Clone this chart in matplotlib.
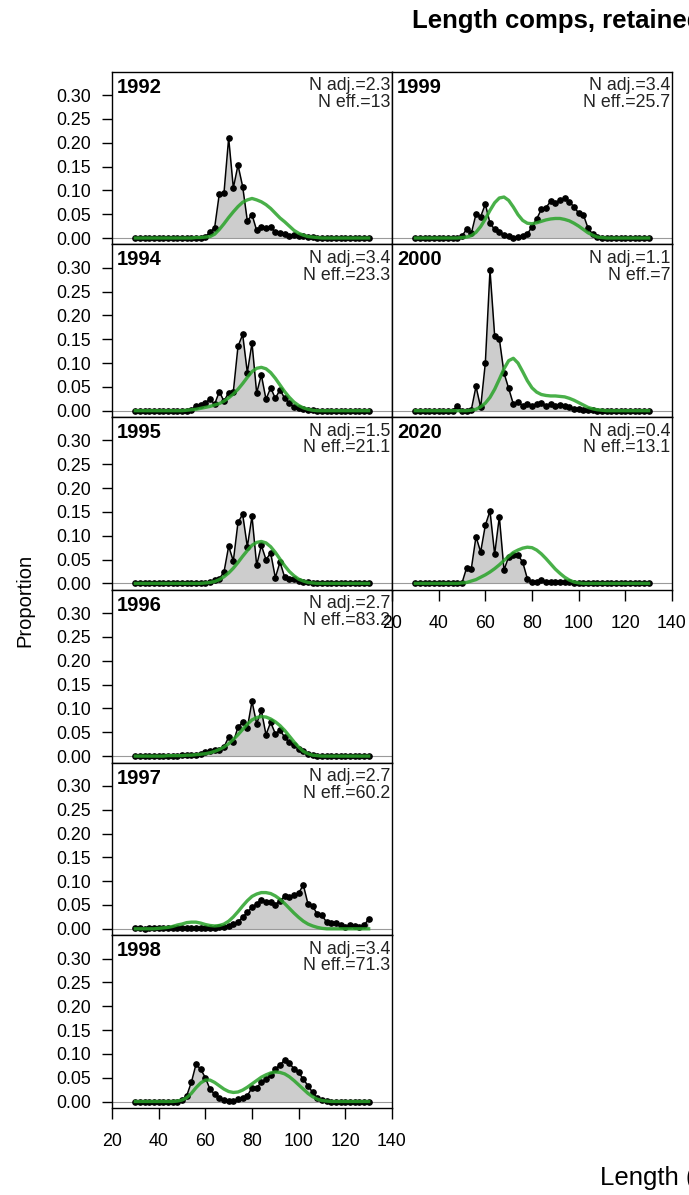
import matplotlib
matplotlib.use('Agg')
import matplotlib.pyplot as plt

plt.rcParams['font.family'] = ['Liberation Sans', 'DejaVu Sans']

# length bins (cm)
length_bins = list(range(30, 132, 2))

# observed / expected proportions, one value per length bin (30..130 by 2)
obs_1992 = [0, 0, 0, 0, 0, 0, 0, 0, 0, 0,
            0, 0, 0, 0, 0.001, 0.003, 0.012, 0.022, 0.093, 0.095,
            0.210, 0.105, 0.153, 0.108, 0.036, 0.049, 0.016, 0.024, 0.020, 0.023,
            0.012, 0.010, 0.008, 0.005, 0.006, 0.004, 0.005, 0.003, 0.002, 0.001,
            0.001, 0, 0, 0, 0, 0, 0, 0, 0, 0,
            0]
exp_1992 = [0, 0, 0, 0, 0, 0, 0, 0, 0, 0,
            0, 0, 0, 0.001, 0.001, 0.002, 0.003, 0.008, 0.018, 0.030,
            0.043, 0.055, 0.066, 0.075, 0.080, 0.083, 0.080, 0.076, 0.070, 0.062,
            0.052, 0.042, 0.034, 0.025, 0.016, 0.010, 0.006, 0.003, 0.002, 0.001,
            0, 0, 0, 0, 0, 0, 0, 0, 0, 0,
            0]

obs_1994 = [0, 0, 0, 0, 0, 0, 0, 0, 0, 0,
            0, 0, 0.002, 0.010, 0.013, 0.017, 0.024, 0.014, 0.040, 0.020,
            0.038, 0.040, 0.135, 0.160, 0.080, 0.142, 0.037, 0.075, 0.024, 0.048,
            0.026, 0.044, 0.026, 0.017, 0.007, 0.006, 0.004, 0.002, 0.001, 0,
            0, 0, 0, 0, 0, 0, 0, 0, 0, 0,
            0]
exp_1994 = [0, 0, 0, 0, 0, 0, 0, 0, 0, 0,
            0, 0.001, 0.002, 0.003, 0.005, 0.007, 0.009, 0.012, 0.015, 0.020,
            0.027, 0.035, 0.045, 0.057, 0.070, 0.082, 0.089, 0.091, 0.088, 0.080,
            0.068, 0.054, 0.040, 0.028, 0.018, 0.011, 0.006, 0.003, 0.001, 0,
            0, 0, 0, 0, 0, 0, 0, 0, 0, 0,
            0]

obs_1995 = [0, 0, 0, 0, 0, 0, 0, 0, 0, 0,
            0, 0, 0, 0, 0, 0.001, 0.002, 0.008, 0.010, 0.024,
            0.078, 0.047, 0.128, 0.145, 0.077, 0.141, 0.038, 0.080, 0.050, 0.064,
            0.012, 0.045, 0.013, 0.009, 0.010, 0.005, 0.003, 0.002, 0.001, 0,
            0, 0, 0, 0, 0, 0, 0, 0, 0, 0,
            0]
exp_1995 = [0, 0, 0, 0, 0, 0, 0, 0, 0, 0,
            0, 0, 0, 0, 0, 0.001, 0.002, 0.004, 0.008, 0.014,
            0.022, 0.032, 0.044, 0.057, 0.069, 0.080, 0.086, 0.088, 0.085, 0.077,
            0.065, 0.051, 0.037, 0.025, 0.016, 0.009, 0.005, 0.002, 0.001, 0,
            0, 0, 0, 0, 0, 0, 0, 0, 0, 0,
            0]

obs_1996 = [0, 0, 0, 0, 0, 0, 0, 0, 0, 0.001,
            0.002, 0.002, 0.002, 0.003, 0.005, 0.008, 0.010, 0.012, 0.013, 0.019,
            0.040, 0.029, 0.061, 0.071, 0.059, 0.115, 0.068, 0.096, 0.045, 0.071,
            0.047, 0.054, 0.040, 0.029, 0.024, 0.015, 0.010, 0.005, 0.002, 0.001,
            0, 0, 0, 0, 0, 0, 0, 0, 0, 0,
            0]
exp_1996 = [0, 0, 0, 0, 0, 0, 0, 0.001, 0.001, 0.001,
            0.001, 0.002, 0.002, 0.003, 0.004, 0.005, 0.007, 0.010, 0.014, 0.019,
            0.026, 0.035, 0.045, 0.056, 0.067, 0.076, 0.081, 0.083, 0.082, 0.078,
            0.072, 0.064, 0.054, 0.042, 0.030, 0.019, 0.010, 0.005, 0.002, 0.001,
            0, 0, 0, 0, 0, 0, 0, 0, 0, 0,
            0]

obs_1997 = [0.001, 0.001, 0, 0.001, 0.001, 0.001, 0.001, 0.002, 0.001, 0.002,
            0.002, 0.002, 0.001, 0.002, 0.002, 0.001, 0.002, 0.002, 0.003, 0.004,
            0.006, 0.010, 0.015, 0.024, 0.035, 0.045, 0.052, 0.061, 0.056, 0.057,
            0.051, 0.059, 0.068, 0.066, 0.071, 0.075, 0.092, 0.052, 0.047, 0.031,
            0.028, 0.014, 0.012, 0.013, 0.007, 0.003, 0.007, 0.006, 0.003, 0.007,
            0.021]
exp_1997 = [0, 0, 0, 0, 0, 0.001, 0.002, 0.003, 0.005, 0.008,
            0.010, 0.013, 0.014, 0.014, 0.012, 0.009, 0.007, 0.006, 0.007, 0.010,
            0.016, 0.025, 0.036, 0.048, 0.059, 0.068, 0.073, 0.076, 0.076, 0.074,
            0.069, 0.062, 0.053, 0.043, 0.033, 0.024, 0.016, 0.010, 0.006, 0.003,
            0.001, 0, 0, 0, 0, 0, 0, 0, 0, 0,
            0]

obs_1998 = [0, 0, 0, 0, 0, 0, 0, 0, 0, 0,
            0.003, 0.012, 0.040, 0.078, 0.068, 0.050, 0.026, 0.015, 0.008, 0.003,
            0.001, 0.002, 0.005, 0.008, 0.012, 0.029, 0.029, 0.040, 0.047, 0.056,
            0.068, 0.077, 0.087, 0.080, 0.069, 0.061, 0.047, 0.033, 0.019, 0.007,
            0.003, 0.001, 0, 0, 0, 0, 0, 0, 0, 0,
            0]
exp_1998 = [0, 0, 0, 0, 0, 0, 0, 0, 0, 0.001,
            0.003, 0.008, 0.017, 0.029, 0.039, 0.045, 0.045, 0.040, 0.033, 0.026,
            0.021, 0.019, 0.020, 0.024, 0.030, 0.037, 0.044, 0.051, 0.056, 0.060,
            0.062, 0.061, 0.058, 0.052, 0.044, 0.035, 0.026, 0.017, 0.010, 0.005,
            0.002, 0.001, 0, 0, 0, 0, 0, 0, 0, 0,
            0]

obs_1999 = [0, 0, 0, 0, 0, 0, 0, 0, 0, 0,
            0.004, 0.019, 0.010, 0.050, 0.045, 0.071, 0.031, 0.018, 0.012, 0.006,
            0.004, 0.001, 0.002, 0.004, 0.008, 0.024, 0.040, 0.060, 0.064, 0.077,
            0.073, 0.080, 0.084, 0.075, 0.066, 0.052, 0.049, 0.021, 0.008, 0.003,
            0, 0, 0, 0, 0, 0, 0, 0, 0, 0,
            0]
exp_1999 = [0, 0, 0, 0, 0, 0, 0, 0, 0, 0,
            0.001, 0.002, 0.005, 0.012, 0.024, 0.040, 0.058, 0.074, 0.084, 0.086,
            0.079, 0.065, 0.049, 0.037, 0.031, 0.030, 0.032, 0.035, 0.038, 0.040,
            0.041, 0.041, 0.039, 0.036, 0.031, 0.025, 0.018, 0.011, 0.006, 0.002,
            0.001, 0, 0, 0, 0, 0, 0, 0, 0, 0,
            0]

obs_2000 = [0, 0, 0, 0, 0, 0, 0, 0, 0, 0.010,
            0, 0, 0.002, 0.051, 0.007, 0.100, 0.295, 0.157, 0.151, 0.079,
            0.047, 0.014, 0.019, 0.010, 0.014, 0.010, 0.015, 0.017, 0.010, 0.015,
            0.010, 0.013, 0.009, 0.007, 0.004, 0.003, 0.002, 0.001, 0.001, 0,
            0, 0, 0, 0, 0, 0, 0, 0, 0, 0,
            0]
exp_2000 = [0, 0, 0, 0, 0, 0, 0, 0, 0, 0,
            0, 0, 0.001, 0.003, 0.008, 0.016, 0.028, 0.045, 0.066, 0.088,
            0.105, 0.110, 0.100, 0.082, 0.063, 0.048, 0.039, 0.034, 0.032, 0.031,
            0.031, 0.030, 0.029, 0.026, 0.022, 0.017, 0.012, 0.007, 0.004, 0.002,
            0.001, 0, 0, 0, 0, 0, 0, 0, 0, 0,
            0]

obs_2020 = [0, 0, 0, 0, 0, 0, 0, 0, 0, 0,
            0.001, 0.033, 0.031, 0.098, 0.066, 0.122, 0.152, 0.061, 0.140, 0.028,
            0.056, 0.059, 0.059, 0.045, 0.010, 0.003, 0.004, 0.007, 0.003, 0.003,
            0.002, 0.003, 0.002, 0.002, 0.001, 0.001, 0.001, 0, 0, 0,
            0, 0, 0, 0, 0, 0, 0, 0, 0, 0,
            0]
exp_2020 = [0, 0, 0, 0, 0, 0, 0, 0, 0, 0,
            0.001, 0.002, 0.005, 0.008, 0.013, 0.018, 0.024, 0.031, 0.039, 0.048,
            0.057, 0.065, 0.070, 0.074, 0.076, 0.075, 0.070, 0.062, 0.052, 0.041,
            0.030, 0.021, 0.013, 0.007, 0.003, 0.001, 0, 0, 0, 0,
            0, 0, 0, 0, 0, 0, 0, 0, 0, 0,
            0]

years = ['1992', '1994', '1995', '1996', '1997', '1998', '1999', '2000', '2020']
n_adj = ['2.3', '3.4', '1.5', '2.7', '2.7', '3.4', '3.4', '1.1', '0.4']
n_eff = ['13', '23.3', '21.1', '83.2', '60.2', '71.3', '25.7', '7', '13.1']
obs_all = [obs_1992, obs_1994, obs_1995, obs_1996, obs_1997, obs_1998,
           obs_1999, obs_2000, obs_2020]
exp_all = [exp_1992, exp_1994, exp_1995, exp_1996, exp_1997, exp_1998,
           exp_1999, exp_2000, exp_2020]

y_ticks = [0, 0.05, 0.10, 0.15, 0.20, 0.25, 0.30]
x_ticks = [20, 40, 60, 80, 100, 120, 140]

W, H = 689, 1195
fig = plt.figure(figsize=(W / 100, H / 100), dpi=100)

top0 = 71.7
ph = 172.7
pw = 280

for i, yr in enumerate(years):
    col = 0 if i < 6 else 1
    row = i if i < 6 else i - 6
    left = 112 + col * pw
    top = top0 + row * ph
    ax = fig.add_axes([left / W, 1 - (top + ph) / H, pw / W, ph / H])

    obs = obs_all[i]
    exp = exp_all[i]
    ax.fill_between(length_bins, 0, obs, color='#cdcdcd', lw=0)
    ax.axhline(0, color='#9a9a9a', lw=0.8)
    ax.plot(length_bins, obs, '-o', color='black', lw=1.1, ms=3.8)
    ax.plot(length_bins, exp, color=(0.16, 0.64, 0.16), lw=2.4, alpha=0.85)

    ax.set_xlim(20, 140)
    ax.set_ylim(-0.0134, 0.349)
    for s in ax.spines.values():
        s.set_linewidth(1.0)

    ax.text(0.018, 0.965, yr, transform=ax.transAxes, ha='left', va='top',
            fontsize=14.5, fontweight='bold')
    ax.text(0.993, 0.968, 'N adj.=' + n_adj[i] + '\nN eff.=' + n_eff[i],
            transform=ax.transAxes, ha='right', va='top', fontsize=12.8,
            linespacing=0.98, color='#222222')

    if col == 0:
        ax.set_yticks(y_ticks)
        ax.set_yticklabels(['%.2f' % v for v in y_ticks])
        ax.tick_params(axis='y', length=7, width=1, pad=8, labelsize=12.8)
    else:
        ax.set_yticks([])

    if row == 5 or (col == 1 and row == 2):
        ax.set_xticks(x_ticks)
        ax.tick_params(axis='x', length=8, width=1, pad=10, labelsize=12.8)
    else:
        ax.set_xticks([])

fig.text(412 / W, 1 - 21 / H, 'Length comps, retained, whole catch',
         ha='left', va='center', fontsize=18.5, fontweight='bold')
fig.text(600 / W, 1 - 1178 / H, 'Length (cm)', ha='left', va='center',
         fontsize=18.5)
fig.text(25 / W, 1 - 600 / H, 'Proportion', rotation=90, ha='center',
         va='center', fontsize=14.5)

fig.savefig('out.png', dpi=100)
